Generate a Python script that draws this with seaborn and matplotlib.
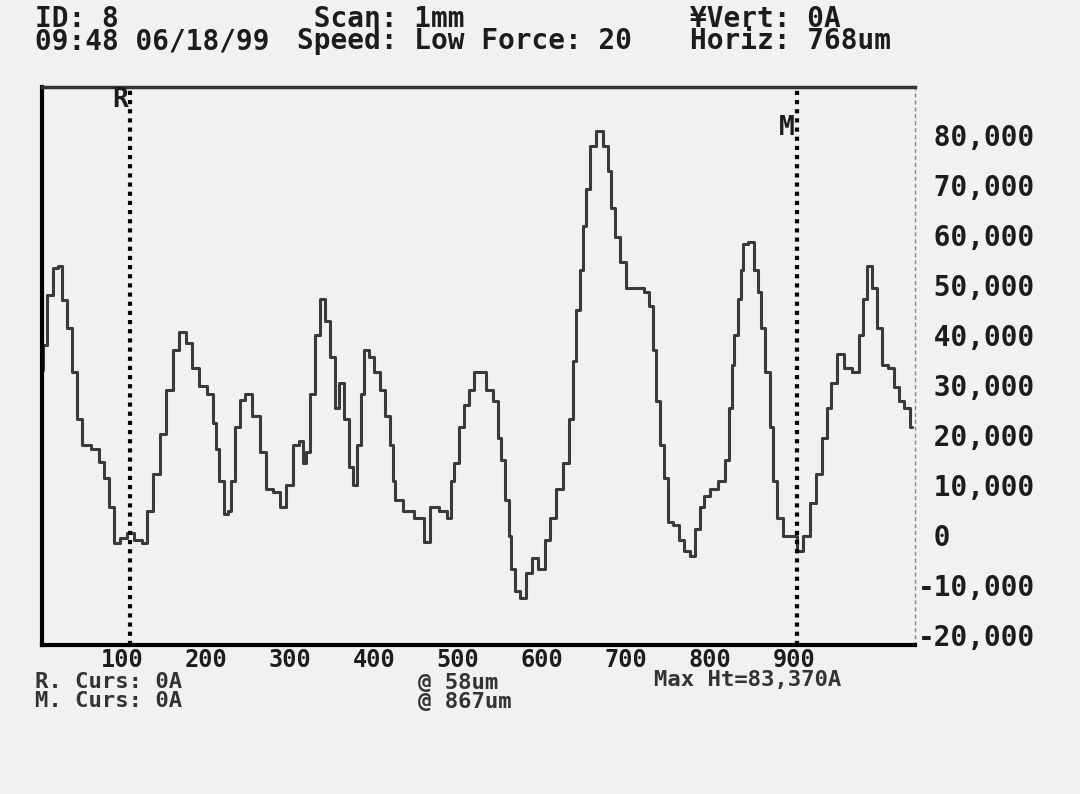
import numpy as np
import pandas as pd
import matplotlib
matplotlib.use("Agg")
import matplotlib.pyplot as plt
import seaborn as sns

# scan position (um) and surface height (A)
pos = [5, 7, 14, 21, 26, 32, 38, 44, 50, 56, 70, 76, 82, 88, 94, 102, 109, 121, 127,
       133, 141, 149, 157, 165, 172, 181, 187, 196, 207, 210, 213, 219, 225, 228, 232,
       238, 244, 250, 260, 268, 276, 284, 291, 300, 308, 314, 317, 321, 327, 333, 339,
       344, 350, 356, 361, 367, 373, 377, 383, 386, 391, 397, 403, 410, 416, 421, 423,
       427, 442, 454, 464, 470, 484, 490, 493, 498, 504, 510, 516, 522, 529, 537, 546,
       549, 553, 559, 561, 565, 571, 577, 585, 591, 600, 606, 612, 621, 629, 635, 638,
       642, 647, 650, 654, 660, 668, 677, 680, 684, 690, 696, 704, 716, 725, 730, 734,
       737, 742, 748, 751, 760, 766, 772, 779, 785, 790, 795, 803, 814, 820, 825, 826,
       831, 835, 837, 841, 849, 855, 858, 862, 868, 873, 876, 882, 891, 900, 906, 914,
       922, 930, 936, 942, 945, 956, 963, 974, 980, 983, 989, 995, 1001, 1007, 1015,
       1021, 1027, 1034, 1040]
height = [33000, 38000, 48000, 53400, 53800, 47000, 41400, 32600, 23200, 18000, 17200,
          14600, 11400, 5600, -1600, -600, 400, -1000, -1600, 4800, 12200, 20200, 29000,
          37000, 40600, 38400, 33400, 29800, 28200, 22400, 17200, 10800, 4200, 4800,
          10800, 21600, 27000, 28200, 23800, 16600, 9200, 8600, 5600, 10000, 18000,
          18800, 14400, 16600, 28200, 40000, 47200, 42800, 35600, 25400, 30400, 23200,
          13600, 10000, 18000, 28200, 37000, 35600, 32600, 29000, 23800, 18000, 10800,
          7000, 4800, 3400, -1400, 5600, 4800, 3400, 10800, 14400, 21600, 26000, 29000,
          32600, 32600, 29000, 26800, 19400, 15000, 7000, -200, -6800, -11200, -12600,
          -7600, -4600, -6800, -1000, 3400, 9200, 14400, 23200, 34800, 45000, 53000,
          61800, 69200, 77800, 80800, 77800, 72800, 65400, 59600, 54600, 49400, 49400,
          48600, 45800, 37000, 26800, 18000, 11400, 2600, 2000, -1000, -3200, -4200,
          1200, 5600, 7800, 9200, 10800, 15000, 25400, 34000, 40000, 47200, 53000,
          58200, 58600, 53000, 48600, 41400, 32600, 21600, 10800, 3400, -200, -200,
          -3200, -200, 6400, 12200, 19400, 25400, 30400, 36200, 33400, 32600, 40000,
          47200, 53800, 49400, 41400, 34000, 33400, 29600, 26800, 25400, 21600]

x_ticks = [100, 200, 300, 400, 500, 600, 700, 800, 900]
y_ticks = [80000, 70000, 60000, 50000, 40000, 30000, 20000, 10000, 0, -10000, -20000]
y_labels = [" 80,000", " 70,000", " 60,000", " 50,000", " 40,000", " 30,000",
            " 20,000", " 10,000", " 0", "-10,000", "-20,000"]
cursors = {"R": 110, "M": 903}

paper = "#eff2ef"
ink = "#1c1c1c"

sns.set_theme(style="white")
plt.rcParams["font.family"] = ["DejaVu Sans Mono", "DejaVu Sans"]
plt.rcParams["font.weight"] = "bold"

df = pd.DataFrame({"pos": pos, "height": height})

fig = plt.figure(figsize=(10.8, 7.94), dpi=100, facecolor=paper)
ax = fig.add_axes([0.0389, 0.1877, 0.808, 0.7027], facecolor=paper)

sns.lineplot(data=df, x="pos", y="height", ax=ax, sort=False, estimator=None,
             color="#3a3a3a", linewidth=2.2, drawstyle="steps-mid")

ax.set_xlim(5, 1043)
ax.set_ylim(-22000, 89600)
ax.set_xlabel("")
ax.set_ylabel("")

ax.set_xticks(x_ticks)
ax.set_xticklabels([str(t) for t in x_ticks])
ax.yaxis.tick_right()
ax.set_yticks(y_ticks)
ax.set_yticklabels(y_labels, ha="left")
ax.tick_params(axis="both", length=0, colors=ink)
ax.tick_params(axis="x", pad=2, labelsize=17)
ax.tick_params(axis="y", pad=2, labelsize=20)

for side in ["left", "bottom"]:
    ax.spines[side].set_color("black")
    ax.spines[side].set_linewidth(3)
ax.spines["top"].set_color("#333333")
ax.spines["top"].set_linewidth(2.5)
ax.spines["right"].set_color("#888888")
ax.spines["right"].set_linewidth(1)
ax.spines["right"].set_linestyle((0, (2, 3)))

# cursor lines
for name, cx in cursors.items():
    ax.axvline(cx, color="black", linewidth=3, linestyle=(0, (1, 1.2)),
               dash_capstyle="butt")
ax.text(cursors["R"] - 3, 87000, "R", ha="right", va="center", fontsize=19,
        color=ink, fontweight="bold")
ax.text(cursors["M"] - 3, 81400, "M", ha="right", va="center", fontsize=19,
        color=ink, fontweight="bold")

# header (two printed lines per block)
hdr = dict(fontsize=20, color=ink, fontweight="bold", va="center", ha="left",
           linespacing=0.74)
fig.text(0.032, 0.962, "ID: 8\n09:48 06/18/99", **hdr)
fig.text(0.275, 0.962, " Scan: 1mm\nSpeed: Low Force: 20", **hdr)
fig.text(0.639, 0.962, "¥Vert: 0A\nHoriz: 768um", **hdr)

# footer
ftr = dict(fontsize=16, color="#333333", fontweight="bold", va="center", ha="left",
           linespacing=0.9)
fig.text(0.032, 0.1290, "R. Curs: 0A\nM. Curs: 0A", **ftr)
fig.text(0.387, 0.1280, "@ 58um\n@ 867um", **ftr)
fig.text(0.606, 0.1440, "Max Ht=83,370A", **ftr)

fig.savefig("out.png", dpi=100, facecolor=paper)
